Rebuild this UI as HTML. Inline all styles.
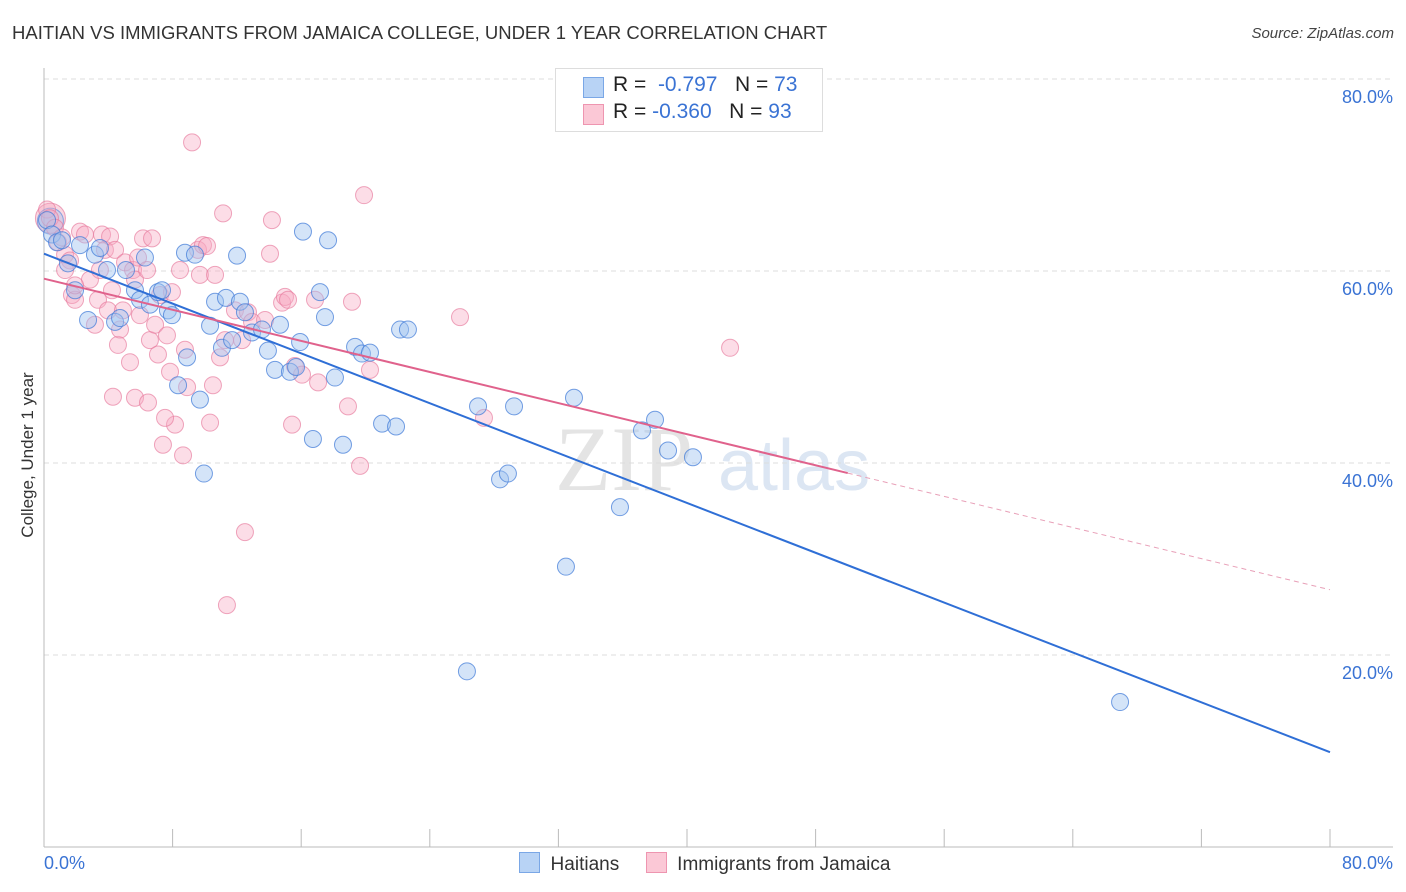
<!DOCTYPE html>
<html><head><meta charset="utf-8">
<style>
body{margin:0;background:#fff;font-family:"Liberation Sans",sans-serif;}
#wrap{position:relative;width:1406px;height:892px;overflow:hidden;}
.t{position:absolute;white-space:nowrap;}
</style></head>
<body>
<div id="wrap">
<div class="t" style="left:12px;top:22px;font-size:18.5px;color:#333;">HAITIAN VS IMMIGRANTS FROM JAMAICA COLLEGE, UNDER 1 YEAR CORRELATION CHART</div>
<div class="t" style="right:12px;top:25px;font-size:15px;color:#444;font-style:italic;">Source: ZipAtlas.com</div>
<svg id="plot" width="1406" height="892" style="position:absolute;left:0;top:0"></svg>
<div class="t" style="left:555px;top:68px;width:266px;height:62px;border:1px solid #ddd;background:#fff;font-size:21px;color:#222;">
 <div style="position:absolute;left:27px;top:8px;width:19px;height:19px;background:#b8d3f5;border:1px solid #7aa7e6;"></div>
 <div style="position:absolute;left:57px;top:4px;">R = <span style="color:#3a73d4">&nbsp;-0.797</span>&nbsp;&nbsp;&nbsp;N = <span style="color:#3a73d4">73</span></div>
 <div style="position:absolute;left:27px;top:35px;width:19px;height:19px;background:#fbc8d6;border:1px solid #ee95b0;"></div>
 <div style="position:absolute;left:57px;top:31px;">R = <span style="color:#3a73d4">-0.360</span>&nbsp;&nbsp;&nbsp;N = <span style="color:#3a73d4">93</span></div>
</div>
<div class="t" style="left:28px;top:455px;font-size:17px;color:#333;transform:translate(-50%,-50%) rotate(-90deg);">College, Under 1 year</div>
<div class="t" style="left:519px;top:852px;font-size:19px;color:#333;">
 <span style="display:inline-block;width:19px;height:19px;background:#b8d3f5;border:1px solid #7aa7e6;vertical-align:-3px;"></span>&nbsp; Haitians&nbsp;&nbsp;&nbsp;&nbsp;
 <span style="display:inline-block;width:19px;height:19px;background:#fbc8d6;border:1px solid #ee95b0;vertical-align:-3px;"></span>&nbsp; Immigrants from Jamaica
</div>
</div>
<script>
const yTicks=[20,40,60,80];
const yTickLabels=["20.0%","40.0%","60.0%","80.0%"];
const blueX=[0.19,0.5,0.81,1.12,1.49,1.93,2.24,2.74,3.17,3.48,3.92,4.42,4.73,5.1,5.66,5.97,6.28,6.59,7.09,7.34,7.71,7.96,8.34,8.77,8.9,9.39,9.7,9.95,10.33,10.64,11.07,11.32,11.7,12.01,12.19,12.5,12.94,13.56,13.93,14.37,14.68,15.3,15.68,15.93,16.11,16.73,17.17,17.48,17.67,18.1,18.6,19.35,19.78,20.28,21.03,21.9,22.15,22.64,27.0,28.37,28.86,29.24,32.47,32.97,35.83,37.2,38.01,38.82,40.37,26.31,66.94];
const blueY=[65.3,63.8,63.0,63.2,60.8,58.0,62.7,54.9,61.7,62.4,60.1,54.7,55.1,60.1,58.0,57.0,61.4,56.5,57.8,58.0,55.9,55.4,48.1,61.9,51.0,61.7,46.6,38.9,54.3,56.8,52.0,57.2,52.8,61.6,56.8,55.7,53.6,53.9,51.7,49.7,54.4,49.5,50.0,52.6,64.1,42.5,57.8,55.2,63.2,48.9,41.9,52.1,51.4,51.5,44.1,43.8,53.9,53.9,45.9,38.3,38.9,45.9,29.2,46.8,35.4,43.4,44.5,41.3,40.6,18.3,15.1];
const pinkX=[0.19,0.37,0.68,0.87,1.12,1.31,1.62,1.74,1.93,2.24,2.55,2.86,3.17,3.36,3.61,3.79,3.98,4.11,4.23,4.42,4.6,4.73,4.91,5.04,5.35,5.54,5.66,5.85,5.97,6.16,6.41,6.59,6.72,6.91,7.09,7.22,7.4,7.65,7.84,7.96,8.15,8.46,8.65,8.77,8.9,9.21,9.58,9.7,9.89,10.14,10.33,10.51,10.64,10.95,11.14,11.26,11.38,11.88,12.32,12.5,12.69,12.94,13.75,14.06,14.18,14.81,14.99,15.18,15.43,15.61,16.05,16.86,17.05,18.91,19.16,19.66,19.91,20.28,25.88,27.37,42.68,4.29,5.66,6.47,7.53,1.31,1.93,3.48];
const pinkY=[66.4,65.5,64.5,63.0,63.5,61.7,61.1,57.5,57.0,64.1,63.8,59.1,54.4,57.0,63.8,62.2,55.9,63.6,58.0,62.2,52.3,53.9,55.9,60.9,50.5,60.1,59.1,61.4,55.4,63.4,60.1,52.8,63.4,54.4,51.3,57.5,41.9,53.3,49.5,57.8,44.0,60.1,40.8,51.8,47.9,73.4,62.2,59.6,62.7,62.6,44.2,48.1,59.6,51.0,66.0,52.8,25.2,55.9,52.8,32.8,55.7,54.7,54.9,61.8,65.3,56.7,57.3,57.0,44.0,50.1,49.2,57.0,48.4,45.9,56.8,39.7,67.9,49.7,55.2,44.7,52.0,46.9,46.8,46.3,44.7,60.1,58.5,60.1];
const blueFit=[61.8,-0.649];
const pinkFit=[59.2,-0.405];
const NS='http://www.w3.org/2000/svg';
const svg=document.getElementById('plot');
const X0=44,X1=1330,Y0=847,Y80=79;
const sx=v=>X0+(X1-X0)*v/80;
const sy=v=>Y0-(Y0-Y80)*v/80;
function mk(tag,attrs){const e=document.createElementNS(NS,tag);for(const k in attrs)e.setAttribute(k,attrs[k]);svg.appendChild(e);return e;}
let wm=mk('text',{x:555,y:490,'font-size':'92','font-family':'Liberation Serif, serif',fill:'#e4e4e4'});wm.textContent='ZIP';


let wm2=mk('text',{x:718,y:490,'font-size':'72','font-family':'Liberation Sans, sans-serif',fill:'#dce6f3'});wm2.textContent='atlas';


yTicks.forEach((t,i)=>{
 const g=mk('line',{x1:X0,x2:1393,y1:sy(t),y2:sy(t),stroke:'#ddd','stroke-dasharray':'5,4'});
 
 
 const l=mk('text',{x:1393,y:sy(t)+24,'text-anchor':'end','font-size':'18',fill:'#3a73d4','font-family':'Liberation Sans, sans-serif'});
 l.textContent=yTickLabels[i];
 
 
});
let ax=mk('line',{x1:X0,x2:X0,y1:68,y2:Y0,stroke:'#bbb'});


let bx=mk('line',{x1:X0,x2:1393,y1:Y0,y2:Y0,stroke:'#bbb'});


for(let v=0;v<=80;v+=8){
 const tk=mk('line',{x1:sx(v),x2:sx(v),y1:Y0,y2:Y0-18,stroke:'#bbb'});
 
 
}
let xl=mk('text',{x:44,y:869,'font-size':'18',fill:'#3a73d4','font-family':'Liberation Sans, sans-serif'});xl.textContent='0.0%';


let xr=mk('text',{x:1393,y:869,'text-anchor':'end','font-size':'18',fill:'#3a73d4','font-family':'Liberation Sans, sans-serif'});xr.textContent='80.0%';


let bp=mk('circle',{cx:sx(0.4),cy:sy(65.5),r:15,fill:'rgba(240,140,170,0.35)',stroke:'rgba(225,110,150,0.6)'});


let bb=mk('circle',{cx:sx(0.4),cy:sy(65.2),r:13,fill:'rgba(140,180,235,0.3)',stroke:'rgba(70,130,220,0.6)'});


pinkX.forEach((x,i)=>{
 const c=mk('circle',{cx:sx(x),cy:sy(pinkY[i]),r:8.5,fill:'rgba(247,170,195,0.4)',stroke:'rgba(230,120,155,0.65)','stroke-width':1});
 
 
});
blueX.forEach((x,i)=>{
 const c=mk('circle',{cx:sx(x),cy:sy(blueY[i]),r:8.5,fill:'rgba(160,195,240,0.45)',stroke:'rgba(60,120,215,0.7)','stroke-width':1});
 
 
});
let bl=mk('line',{x1:sx(0),y1:sy(blueFit[0]),x2:sx(80),y2:sy(blueFit[0]+blueFit[1]*80),stroke:'#2f6fd6','stroke-width':2});


let pl=mk('line',{x1:sx(0),y1:sy(pinkFit[0]),x2:sx(50),y2:sy(pinkFit[0]+pinkFit[1]*50),stroke:'#e0628c','stroke-width':2});


let pd=mk('line',{x1:sx(50),y1:sy(pinkFit[0]+pinkFit[1]*50),x2:sx(80),y2:sy(pinkFit[0]+pinkFit[1]*80),stroke:'#e8a0b8','stroke-width':1,'stroke-dasharray':'5,4'});


</script>
</body></html>
